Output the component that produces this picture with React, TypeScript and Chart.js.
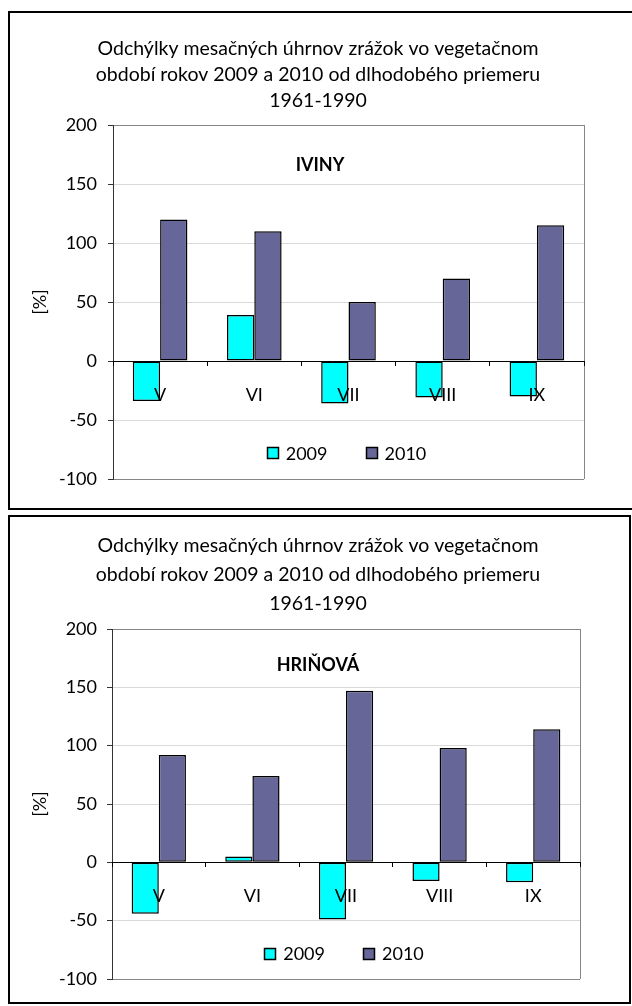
import React, { useEffect, useRef } from "react";
import { Chart, registerables } from "chart.js";

Chart.register(...registerables);

// ---------- data ----------
const months = ["V", "VI", "VII", "VIII", "IX"];
const seriesLabels = ["2009", "2010"];
const seriesColors = ["#00FFFF", "#666699"];
const ivinyValues2009 = [-34, 39, -36, -31, -30];
const ivinyValues2010 = [120, 110, 50, 70, 115];
const hrinovaValues2009 = [-44, 5, -49, -16, -17];
const hrinovaValues2010 = [92, 74, 147, 98, 114];
const yTickValues = [-100, -50, 0, 50, 100, 150, 200];
const titleLines = [
  "Odchýlky mesačných úhrnov zrážok vo vegetačnom",
  "období rokov 2009 a 2010 od dlhodobého priemeru",
  "1961-1990",
];
const yAxisTitle = "[%]";
const stationNames = ["IVINY", "HRIŇOVÁ"];

const FONT = "Lato";

const decorPlugin = {
  id: "decor",
  beforeDatasetsDraw(chart: any) {
    const { ctx, chartArea: a } = chart;
    ctx.save();
    ctx.strokeStyle = "#868686";
    ctx.lineWidth = 1;
    ctx.beginPath();
    const rx = Math.round(a.right) + 0.5;
    ctx.moveTo(rx, a.top);
    ctx.lineTo(rx, a.bottom);
    ctx.stroke();
    ctx.restore();
  },
  afterDraw(chart: any, _args: any, opts: any) {
    const { ctx, chartArea: a } = chart;
    ctx.save();
    // station name
    ctx.font = `bold 18px ${FONT}`;
    ctx.fillStyle = "#000";
    ctx.textAlign = "center";
    ctx.textBaseline = "middle";
    ctx.fillText(opts.station, opts.subX, opts.subY);
    // legend
    ctx.font = `18px ${FONT}`;
    ctx.textAlign = "left";
    const box = 12;
    const gap = 7;
    const itemGap = 38;
    const items = chart.data.datasets.map((d: any) => ({
      label: d.label,
      color: d.backgroundColor,
      w: ctx.measureText(d.label).width,
    }));
    let total = 0;
    items.forEach((it: any, i: number) => {
      total += box + gap + it.w + (i > 0 ? itemGap : 0);
    });
    const cy = a.bottom - opts.legendOffset;
    let x = (a.left + a.right) / 2 + opts.legendShift - total / 2;
    items.forEach((it: any) => {
      const bx = Math.round(x) + 0.5;
      const by = Math.round(cy - box / 2) + 0.5;
      ctx.fillStyle = it.color;
      ctx.fillRect(bx, by, box - 1, box - 1);
      ctx.strokeStyle = "#000";
      ctx.lineWidth = 1.5;
      ctx.strokeRect(bx, by, box - 1, box - 1);
      ctx.fillStyle = "#000";
      ctx.fillText(it.label, x + box + gap, cy + 1);
      x += box + gap + it.w + itemGap;
    });
    ctx.restore();
  },
};

type Cfg = {
  left: number;
  top: number;
  width: number;
  height: number;
  padLeft: number;
  padRight: number;
  padBottom: number;
  yWidth: number;
  titleTop: number;
  titleBottom: number;
  titleLine: number;
  axisTitlePad: number;
  yTickPad: number;
  subX: number;
  subY: number;
  legendOffset: number;
  station: string;
  v2009: number[];
  v2010: number[];
};

function BarChart({ cfg }: { cfg: Cfg }) {
  const ref = useRef<HTMLCanvasElement | null>(null);
  useEffect(() => {
    if (!ref.current) return;
    const values = [cfg.v2009, cfg.v2010];
    const chart = new Chart(ref.current, {
      type: "bar",
      data: {
        labels: months,
        datasets: seriesLabels.map((lab, i) => ({
          label: lab,
          data: values[i],
          backgroundColor: seriesColors[i],
          borderColor: "#000",
          borderWidth: 1.5,
          borderSkipped: false,
          barPercentage: 1,
          categoryPercentage: 0.58,
        })),
      },
      options: {
        animation: false,
        responsive: false,
        events: [],
        layout: {
          padding: { left: cfg.padLeft, right: cfg.padRight, top: 0, bottom: cfg.padBottom },
        },
        plugins: {
          legend: { display: false },
          tooltip: { enabled: false },
          title: {
            display: true,
            text: titleLines,
            color: "#000",
            font: { family: FONT, size: 19.5, weight: "normal", lineHeight: `${cfg.titleLine}px` },
            padding: { top: cfg.titleTop, bottom: cfg.titleBottom },
          },
          decor: {
            station: cfg.station,
            subX: cfg.subX,
            subY: cfg.subY,
            legendOffset: cfg.legendOffset,
            legendShift: -2,
          },
        } as any,
        scales: {
          x: {
            position: { y: 0 } as any,
            offset: true,
            grid: {
              display: true,
              drawOnChartArea: false,
              drawTicks: true,
              tickLength: 4,
              tickColor: "#000",
              offset: true,
              z: 1,
            },
            border: { display: true, color: "#000", width: 1, z: 1 },
            ticks: {
              color: "#000",
              font: { family: FONT, size: 18 },
              padding: 19,
              maxRotation: 0,
              autoSkip: false,
              z: 1,
            },
          },
          y: {
            min: -100,
            max: 200,
            afterBuildTicks: (s: any) => {
              s.ticks = yTickValues.map((v) => ({ value: v }));
            },
            afterFit: (s: any) => {
              s.width = cfg.yWidth;
            },
            ticks: {
              color: "#000",
              font: { family: FONT, size: 18 },
              padding: cfg.yTickPad,
            },
            grid: {
              color: (c: any) =>
                c.tick && (c.tick.value === 200 || c.tick.value === -100) ? "#868686" : "#d9d9d9",
              tickColor: "#333",
              tickLength: 5,
              lineWidth: 1,
            },
            border: { display: true, color: "#333", width: 1 },
            title: {
              display: true,
              text: yAxisTitle,
              color: "#000",
              font: { family: FONT, size: 18 },
              padding: { top: cfg.axisTitlePad, bottom: 0 },
            },
          },
        } as any,
      },
      plugins: [decorPlugin],
    });
    return () => chart.destroy();
  }, [cfg]);
  return (
    <canvas
      ref={ref}
      width={cfg.width}
      height={cfg.height}
      style={{
        position: "absolute",
        left: cfg.left,
        top: cfg.top,
        width: cfg.width,
        height: cfg.height,
      }}
    />
  );
}

const chart1: Cfg = {
  left: 10,
  top: 14,
  width: 600,
  height: 493,
  padLeft: 42,
  padRight: 26,
  padBottom: 28,
  yWidth: 61,
  titleTop: 22,
  titleBottom: 11,
  titleLine: 26,
  axisTitlePad: -22.8,
  yTickPad: 11,
  subX: 310,
  subY: 151,
  legendOffset: 26,
  station: stationNames[0],
  v2009: ivinyValues2009,
  v2010: ivinyValues2010,
};

const chart2: Cfg = {
  left: 10,
  top: 517,
  width: 600,
  height: 484,
  padLeft: 46,
  padRight: 30,
  padBottom: 22,
  yWidth: 56,
  titleTop: 14.5,
  titleBottom: 10.5,
  titleLine: 29,
  axisTitlePad: -26.8,
  yTickPad: 10,
  subX: 308,
  subY: 148,
  legendOffset: 25.5,
  station: stationNames[1],
  v2009: hrinovaValues2009,
  v2010: hrinovaValues2010,
};

export default function App() {
  return (
    <div
      style={{
        position: "absolute",
        left: 0,
        top: 0,
        width: 632,
        height: 1006,
        overflow: "hidden",
        background: "#fff",
      }}
    >
      <div
        style={{
          position: "absolute",
          left: 8,
          top: 11,
          width: 640,
          height: 499,
          border: "2px solid #000",
          boxSizing: "border-box",
        }}
      />
      <div
        style={{
          position: "absolute",
          left: 8,
          top: 515,
          width: 623,
          height: 489,
          border: "2px solid #000",
          boxSizing: "border-box",
        }}
      />
      <BarChart cfg={chart1} />
      <BarChart cfg={chart2} />
    </div>
  );
}
